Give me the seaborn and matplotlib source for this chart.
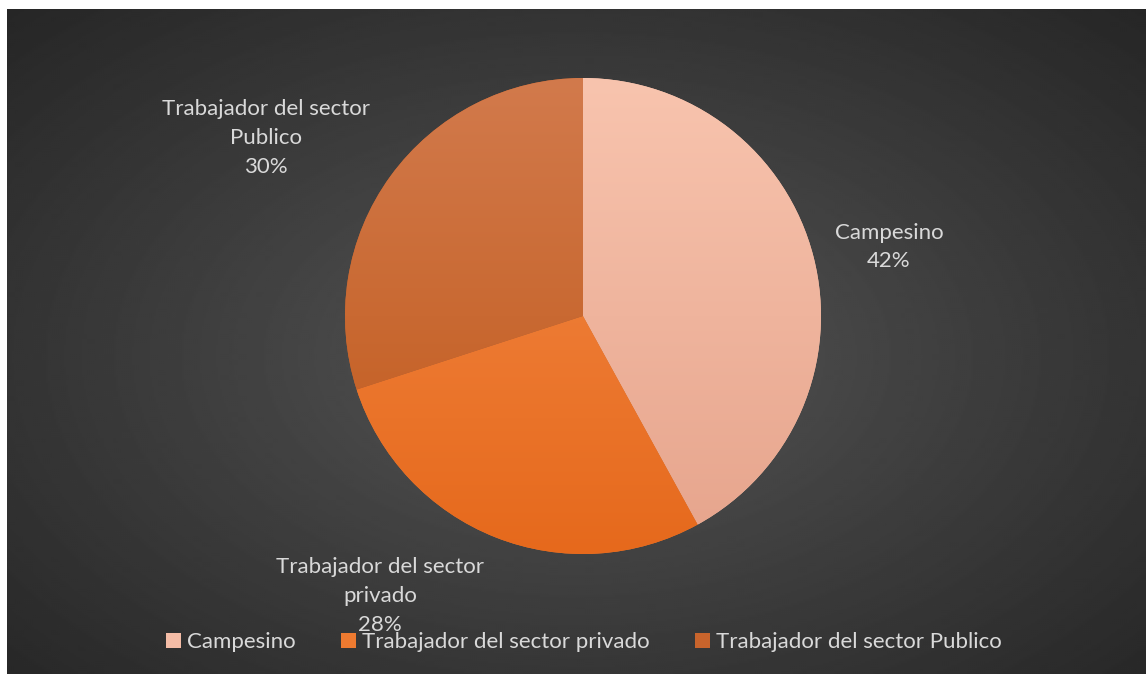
import numpy as np
import matplotlib
matplotlib.use("Agg")
import matplotlib.pyplot as plt
import seaborn as sns
from matplotlib.patches import Patch

# data
categories = ["Campesino", "Trabajador del sector privado", "Trabajador del sector Publico"]
percents = [42, 28, 30]
# top / bottom colours of each slice gradient
tops = ["#F8C4AE", "#F48C4A", "#D27A4C"]
bottoms = ["#E6A48C", "#E6691C", "#C05818"]
legend_colors = ["#F4BCA6", "#EE7A30", "#C8642C"]

sns.set_theme(style="dark")
plt.rcParams["font.family"] = ["Lato", "DejaVu Sans"]
txt_color = "#D9D9D9"
fs = 16

fig = plt.figure(figsize=(11.46, 6.74), dpi=100)
fig.patch.set_facecolor("white")

# radial gradient background
bg = fig.add_axes([7 / 1146, 0, 1 - 7 / 1146, 1 - 9 / 674])
ny, nx = 332, 570
yy, xx = np.mgrid[0:ny, 0:nx]
cx, cy = nx * 0.5, ny * 0.52
r = np.sqrt(((xx - cx) / cx) ** 2 + ((yy - cy) / cy) ** 2) / np.sqrt(2)
shade = 0.345 - 0.195 * np.clip(r, 0, 1) ** 0.9
bg.imshow(shade, cmap="gray", vmin=0, vmax=1, aspect="auto", interpolation="bilinear")
bg.set_axis_off()

# pie
cxp, cyp, rad = 583, 316, 238
ax = fig.add_axes([(cxp - rad) / 1146, (674 - cyp - rad) / 674, 2 * rad / 1146, 2 * rad / 674])
wedges, _ = ax.pie(percents, colors=legend_colors, startangle=90, counterclock=False,
                   radius=1, wedgeprops=dict(linewidth=0))
grad = np.linspace(0, 1, 256).reshape(-1, 1)
for w, t, b in zip(wedges, tops, bottoms):
    cmap = sns.blend_palette([t, b], as_cmap=True)
    im = ax.imshow(grad, cmap=cmap, extent=[-1, 1, -1, 1], aspect="auto", origin="upper",
                   zorder=2)
    im.set_clip_path(w)
ax.set_xlim(-1, 1)
ax.set_ylim(-1, 1)
ax.set_axis_off()

# data labels
label_pos = [(1.286, 0.29), (-0.853, -1.176), (-1.332, 0.748)]
for name, p, (lx, ly) in zip(categories, percents, label_pos):
    text = name.replace(" sector ", " sector\n") + f"\n{p}%"
    ax.text(lx, ly, text, ha="center", va="center", color=txt_color, fontsize=fs,
            linespacing=1.55, clip_on=False, zorder=5)

# legend
handles = [Patch(facecolor=c, edgecolor="none") for c in legend_colors]
fig.legend(handles, categories, loc="center", bbox_to_anchor=(584 / 1146, 1 - 642 / 674),
           ncol=3, frameon=False, fontsize=fs, labelcolor=txt_color,
           handlelength=0.66, handleheight=0.66, handletextpad=0.27, columnspacing=2.05)

fig.savefig("out.png", dpi=100)
